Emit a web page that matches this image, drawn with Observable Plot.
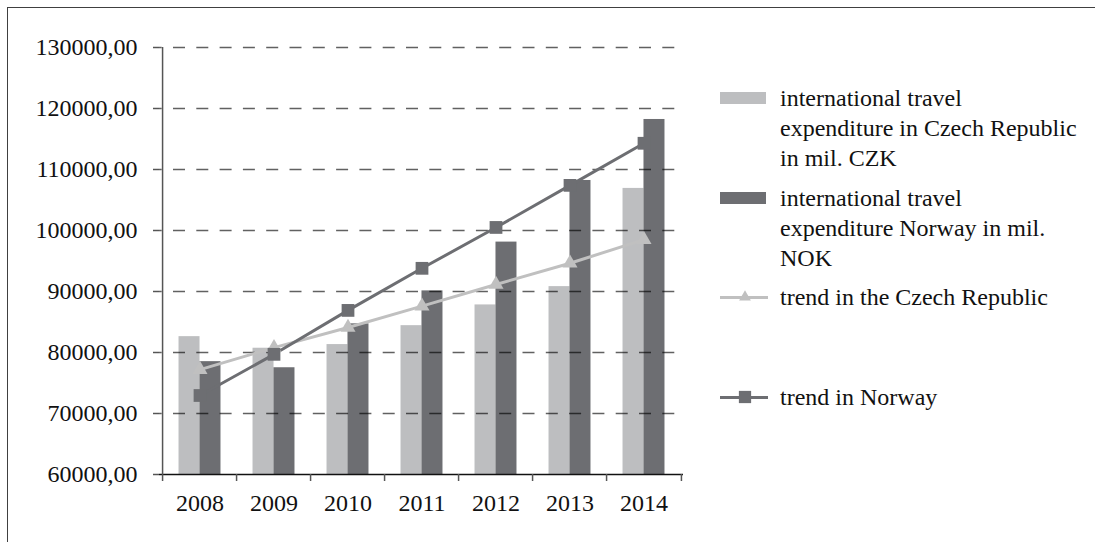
<!DOCTYPE html>
<html>
<head>
<meta charset="utf-8">
<script src="https://cdn.jsdelivr.net/npm/d3@7"></script>
<script src="https://cdn.jsdelivr.net/npm/@observablehq/plot@0.6"></script>
<style>
  html, body { margin: 0; padding: 0; background: #fff; }
  #wrap { position: relative; width: 1095px; height: 542px; overflow: hidden; font-family: "Liberation Serif", "Times New Roman", serif; }
  #frame { position: absolute; left: 7px; top: 7px; width: 1200px; height: 700px; border-left: 1.5px solid #404040; border-top: 1.5px solid #404040; }
  #chart { position: absolute; left: 0; top: 0; }
  .legend { position: absolute; left: 0; top: 0; width: 1095px; height: 542px; pointer-events: none; }
  .item { position: absolute; left: 720px; }
  .sw { position: absolute; left: 0; width: 46px; height: 12px; }
  .ln { position: absolute; left: 0; width: 48px; height: 3px; }
  .txt { position: absolute; left: 60px; white-space: nowrap; font-size: 24px; line-height: 30px; color: #111; }
</style>
</head>
<body>
<div id="wrap">
  <div id="frame"></div>
  <div id="chart"></div>
  <div class="legend" id="legend"></div>
</div>
<script>
const years = ["2008", "2009", "2010", "2011", "2012", "2013", "2014"];
const czkExpenditure = [82600, 80700, 81300, 84400, 87800, 90800, 106900];
const nokExpenditure = [78500, 77500, 84700, 90100, 98100, 108200, 118200];
const czTrend = [77200, 80800, 84100, 87600, 91150, 94640, 98500];
const noTrend = [72950, 79700, 86900, 93800, 100500, 107400, 114300];
const yTicks = [60000, 70000, 80000, 90000, 100000, 110000, 120000, 130000];
const legendLabels = [
  ["international travel", "expenditure in Czech Republic", "in mil. CZK"],
  ["international travel", "expenditure Norway in mil.", "NOK"],
  ["trend in the Czech Republic"],
  ["trend in Norway"]
];

const lightGray = "#bdbec0";
const darkGray = "#6d6e72";
const czLine = "#c0c0c0";

const rows = years.map((y, i) => ({
  year: y, cz: czkExpenditure[i], no: nokExpenditure[i], czT: czTrend[i], noT: noTrend[i]
}));

const W = 1095, H = 542;
const mL = 159, mR = 412, mT = 47, mB = 68;
const step = (W - mL - mR) / years.length;
const fmt = d => d.toFixed(2).replace(".", ",");
const font = "Liberation Serif, Times New Roman, serif";

const chart = Plot.plot({
  width: W, height: H,
  marginLeft: mL, marginRight: mR, marginTop: mT, marginBottom: mB,
  style: { fontFamily: font, fontSize: "24px", color: "#111", background: "transparent", overflow: "visible" },
  x: { type: "band", domain: years, paddingInner: 0.72, paddingOuter: 0.36, label: null },
  y: { domain: [60000, 130000], label: null },
  marks: [
    Plot.barY(rows, { x: "year", y1: 60000, y2: "cz", dx: -step * 0.14, fill: lightGray }),
    Plot.barY(rows, { x: "year", y1: 60000, y2: "no", dx: step * 0.14, fill: darkGray }),
    Plot.gridY(yTicks.slice(1), { stroke: "#000", strokeOpacity: 0.62, strokeWidth: 1.5, strokeDasharray: "12,11.3", strokeDashoffset: 9.3 }),
    Plot.line(rows, { x: "year", y: "czT", stroke: czLine, strokeWidth: 3 }),
    Plot.line(rows, { x: "year", y: "noT", stroke: darkGray, strokeWidth: 3 }),
    Plot.dot(rows, { x: "year", y: "czT", symbol: "triangle", r: 5.6, fill: czLine, stroke: "none" }),
    Plot.dot(rows, { x: "year", y: "noT", symbol: "square", r: 7.2, fill: darkGray, stroke: "none" }),
    Plot.ruleY([60000], { stroke: "#111", strokeWidth: 1.5 }),
    Plot.ruleX([years[0]], { x: d => d, y1: 60000, y2: 130000, dx: -step / 2, stroke: "#555", strokeWidth: 1.5 }),
    Plot.axisY({ ticks: yTicks, tickSize: 6, tickPadding: 16, tickFormat: fmt, fontSize: 24, stroke: "#555", strokeWidth: 1.5 }),
    Plot.axisX({ tickSize: 0, tickPadding: 19, fontSize: 24 }),
    Plot.axisX({ tickSize: 7, tickFormat: () => "", dx: -step / 2, stroke: "#555", strokeWidth: 1.5 }),
    Plot.axisX({ ticks: [years[years.length - 1]], tickSize: 7, tickFormat: () => "", dx: step / 2, stroke: "#555", strokeWidth: 1.5 })
  ]
});
document.getElementById("chart").appendChild(chart);

// legend
const legend = document.getElementById("legend");
const tops = [83, 183, 282, 382];
legendLabels.forEach((lines, i) => {
  const item = document.createElement("div");
  item.className = "item";
  item.style.top = tops[i] + "px";
  if (i < 2) {
    const sw = document.createElement("div");
    sw.className = "sw";
    sw.style.top = "9px";
    sw.style.background = i === 0 ? lightGray : darkGray;
    item.appendChild(sw);
  } else {
    const ln = document.createElement("div");
    ln.className = "ln";
    ln.style.top = "14px";
    ln.style.background = i === 2 ? czLine : darkGray;
    item.appendChild(ln);
    const mk = document.createElementNS("http://www.w3.org/2000/svg", "svg");
    mk.setAttribute("width", "16");
    mk.setAttribute("height", "16");
    mk.style.position = "absolute";
    mk.style.left = "17px";
    mk.style.top = "7px";
    const shape = document.createElementNS("http://www.w3.org/2000/svg", "path");
    shape.setAttribute("d", i === 2 ? d3.symbol(d3.symbolTriangle, 60)() : d3.symbol(d3.symbolSquare, 150)());
    shape.setAttribute("transform", "translate(8,8)");
    shape.setAttribute("fill", i === 2 ? czLine : darkGray);
    mk.appendChild(shape);
    item.appendChild(mk);
  }
  const t = document.createElement("div");
  t.className = "txt";
  t.style.top = "0px";
  t.innerHTML = lines.join("<br>");
  item.appendChild(t);
  legend.appendChild(item);
});
</script>
</body>
</html>
